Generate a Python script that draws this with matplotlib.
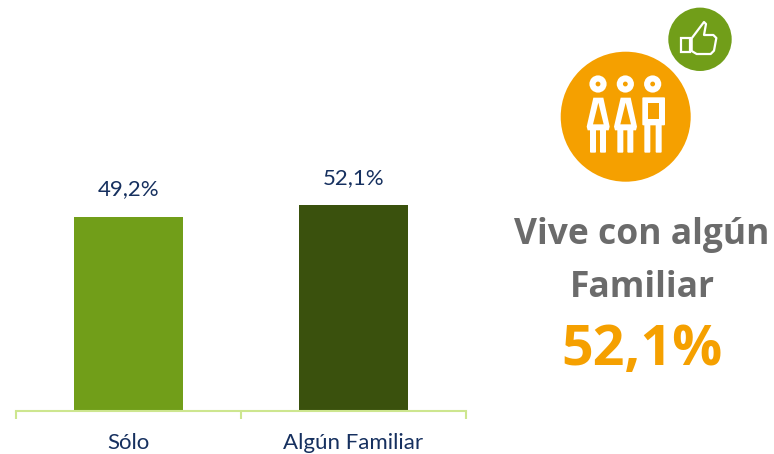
import matplotlib.pyplot as plt
from matplotlib.patches import Circle, Polygon, Rectangle, FancyBboxPatch

categories = ['Sólo', 'Algún Familiar']
values = [49.2, 52.1]
value_labels = ['49,2%', '52,1%']
bar_colors = ['#719E19', '#3A510D']

W, H = 774, 454
ORANGE = '#F5A000'
GREEN = '#719E19'

plt.rcParams['font.family'] = ['Lato', 'DejaVu Sans']

fig = plt.figure(figsize=(W / 100, H / 100), dpi=100)
ax = fig.add_axes([16 / W, (H - 411) / H, 450 / W, 411 / H])
ax.bar(range(len(values)), values, width=0.484, color=bar_colors)
ax.set_xlim(-0.5, 1.5)
ax.set_ylim(0, 104)
ax.patch.set_alpha(0)

for i, v in enumerate(values):
    ax.text(i, v + 6.9, value_labels[i], ha='center', va='center', fontsize=16, color='#16305F')

# bracket style category axis
for s in ['top', 'left', 'right']:
    ax.spines[s].set_visible(False)
ax.spines['bottom'].set_color('#CDE68F')
ax.spines['bottom'].set_linewidth(1.5)
ax.set_yticks([])
ax.set_xticks([-0.5, 0.5, 1.5])
ax.set_xticklabels([])
ax.tick_params(axis='x', length=6, width=1.5, color='#CDE68F')
ax.set_xticks(range(len(categories)), minor=True)
ax.set_xticklabels(categories, minor=True)
ax.tick_params(axis='x', which='minor', length=0, pad=16, labelsize=16, labelcolor='#16305F')

# overlay in pixel coordinates for icons and text
ov = fig.add_axes([0, 0, 1, 1])
ov.set_xlim(0, W)
ov.set_ylim(H, 0)
ov.axis('off')
ov.patch.set_alpha(0)


def z(x, y):
    # zoomed crop coordinates to picture pixels
    return (550 + x / 3, y / 3)


def poly(pts, fc, ec='none', lw=0, **kw):
    ov.add_patch(Polygon([z(*p) for p in pts], closed=True, fc=fc, ec=ec, lw=lw, **kw))


def rect(x0, y0, x1, y1, fc):
    (a, b), (c, d) = z(x0, y0), z(x1, y1)
    ov.add_patch(FancyBboxPatch((a + 1, b + 1), c - a - 2, d - b - 2, boxstyle='round,pad=1',
                                fc=fc, ec='none'))


ov.add_patch(Circle((625.7, 116.7), 65, fc=ORANGE, ec='none'))
ov.add_patch(Circle((700, 39.3), 31.7, fc=GREEN, ec='none'))

# heads
for hx in [144, 226, 308]:
    ov.add_patch(Circle(z(hx, 252), 8.6, fc='white', ec='none'))
    ov.add_patch(Circle(z(hx, 252), 2.4, fc=ORANGE, ec='none'))

# two women
for dx in [0, 82]:
    rect(120 + dx, 385, 138 + dx, 458, 'white')
    rect(150 + dx, 385, 168 + dx, 458, 'white')
    poly([(130 + dx, 293), (160 + dx, 293), (179 + dx, 380), (176 + dx, 391), (113 + dx, 391), (110 + dx, 380)], 'white')
    poly([(145 + dx, 308), (161 + dx, 373), (129 + dx, 373)], ORANGE)

# man
rect(283, 370, 301, 458, 'white')
rect(317, 370, 335, 458, 'white')
rect(277, 292, 345, 376, 'white')
ov.add_patch(Rectangle(z(293, 310), 35 / 3, 48 / 3, fc=ORANGE, ec='none'))

# thumb up
thumb = [(425, 115), (462, 66), (468, 72), (462, 105), (490, 105), (499, 114), (492, 152), (482, 162), (440, 162), (425, 153)]
poly(thumb, 'none', ec='white', lw=1.6, joinstyle='round')
poly([(393, 115), (420, 115), (420, 157), (393, 157)], 'none', ec='white', lw=1.6)

ov.text(642, 235, 'Vive con algún', ha='center', va='center', fontsize=25.5, fontweight='bold',
        family='Open Sans', color='#6B6B6B')
ov.text(642, 288, 'Familiar', ha='center', va='center', fontsize=25.5, fontweight='bold',
        family='Open Sans', color='#6B6B6B')
ov.text(642, 351, '52,1%', ha='center', va='center', fontsize=40, fontweight='bold',
        family='Open Sans', color=ORANGE)

fig.savefig('out.png', dpi=100)
